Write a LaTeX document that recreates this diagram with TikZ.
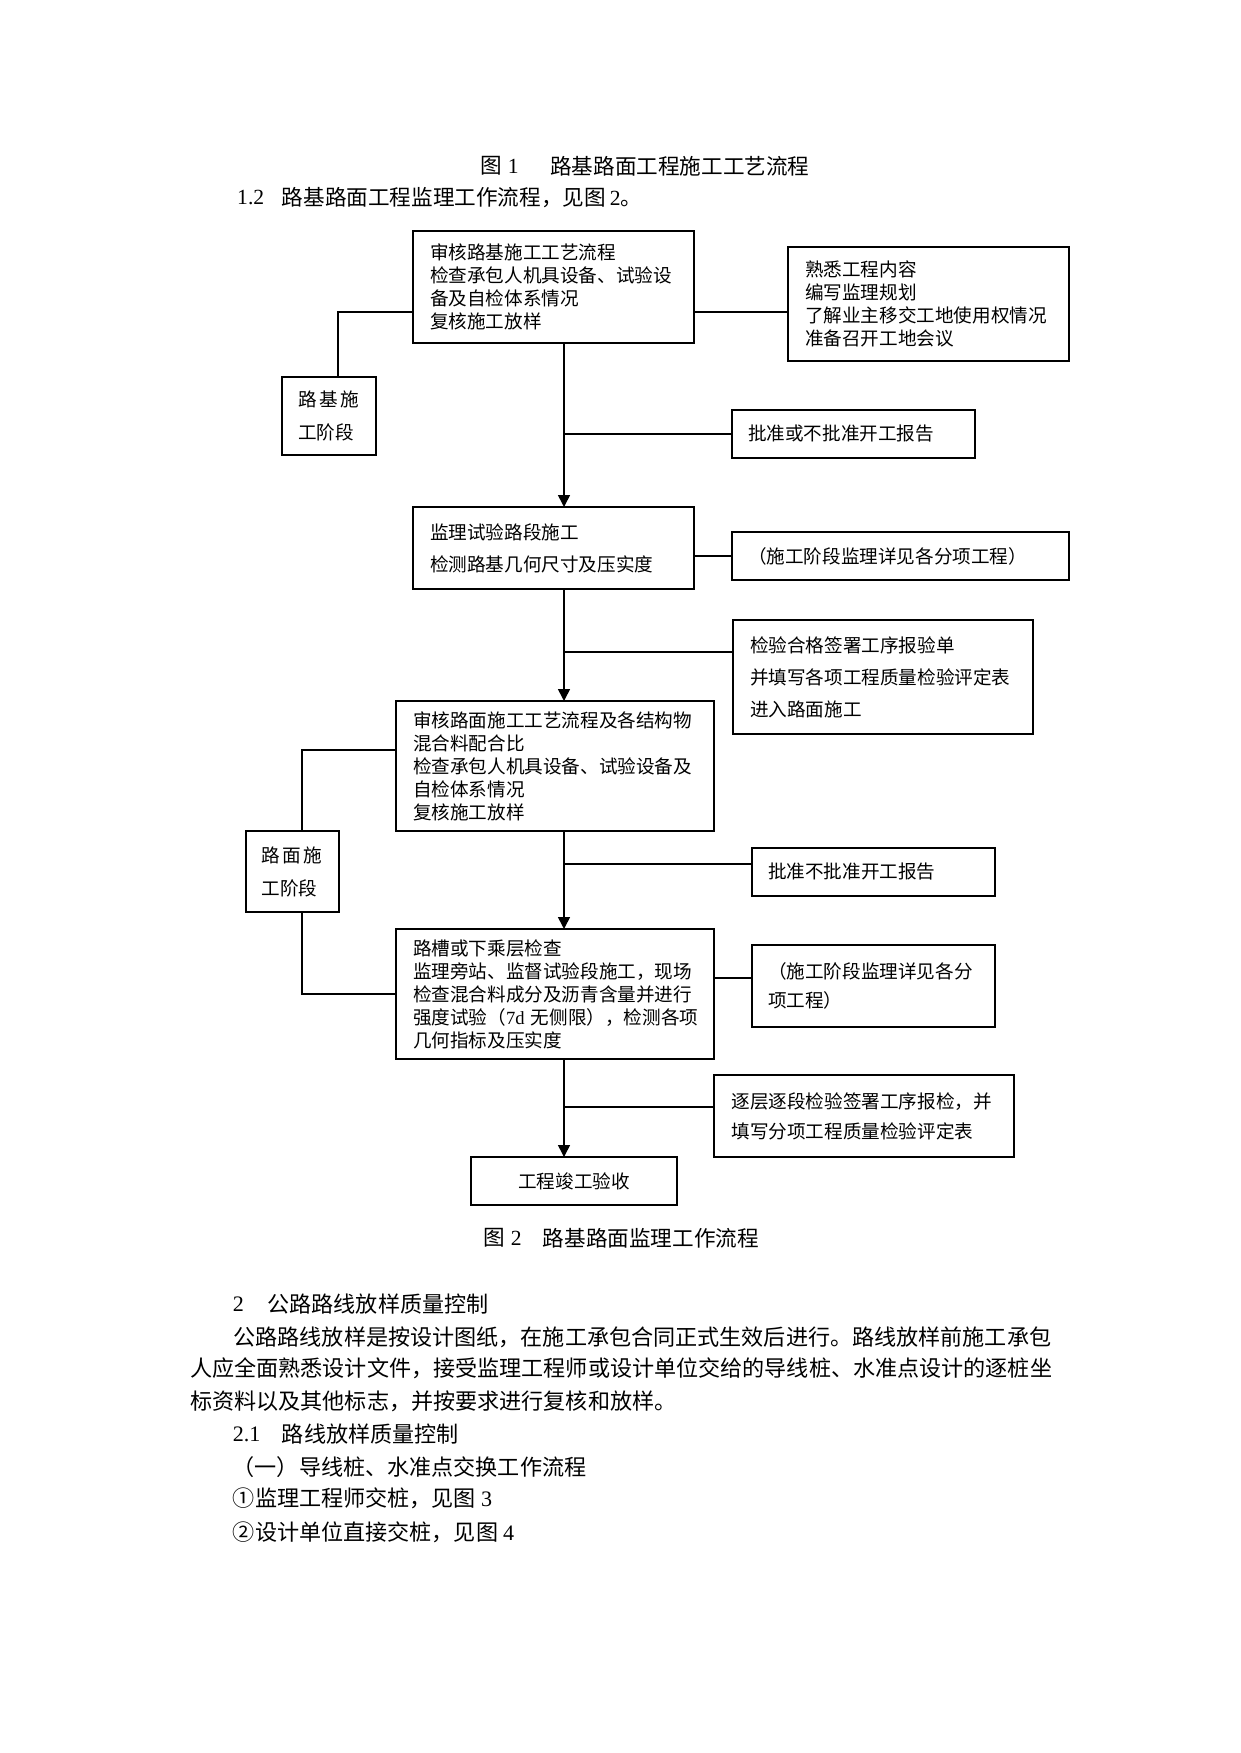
\documentclass[tikz,border=0pt]{standalone}
\usepackage{fontspec}
\newfontfamily\cjk{Noto Sans CJK SC}
\newfontfamily\lat{Liberation Serif}
\usetikzlibrary{arrows.meta}
\begin{document}
\begin{tikzpicture}[x=1pt,y=-1pt,
  box/.style={draw, line width=1.6pt, anchor=north west, outer sep=0pt, inner xsep=17pt, inner ysep=0pt, align=left, font=\cjk\fontsize{18.6pt}{23pt}\selectfont},
  txt/.style={anchor=west, inner sep=0pt, font=\cjk\fontsize{22.1pt}{26pt}\selectfont},
  captxt/.style={anchor=west, inner sep=0pt, font=\cjk\fontsize{21.6pt}{26pt}\selectfont},
  ln/.style={line width=1.6pt},
  arr/.style={ln, -{Triangle[width=12pt,length=12pt]}}]
\useasboundingbox (0,0) rectangle (1240,1753);
\fill[white] (0,0) rectangle (1240,1753);

% headings
\node[captxt] (t1a) at (480,166) {图\hspace{6pt}{\lat 1}};
\node[captxt] (t1b) at (550,166) {路基路面工程施工工艺流程};
\node[captxt] (t2a) at (237,198) {\lat 1.2};
\node[captxt] (t2b) at (281.7,198) {路基路面工程监理工作流程，见图\hspace{4pt}{\lat 2}。};

% boxes
\node[box, text width=247pt, minimum height=112pt] (b1) at (413,231)
  {审核路基施工工艺流程\\检查承包人机具设备、试验设\\备及自检体系情况\\复核施工放样};
\node[box, text width=247pt, minimum height=114pt] (bA) at (788,247)
  {熟悉工程内容\\编写监理规划\\了解业主移交工地使用权情况\\准备召开工地会议};
\node[box, inner xsep=16pt, text width=62pt, minimum height=78pt, font=\cjk\fontsize{18.6pt}{33pt}\selectfont] (bL1) at (282,377)
  {路\hspace{2.5pt}基\hspace{2.5pt}施\\工阶段};
\node[box, inner xsep=16pt, text width=211pt, minimum height=48pt] (bP1) at (732,410)
  {批准或不批准开工报告};
\node[box, text width=247pt, minimum height=82pt, font=\cjk\fontsize{18.6pt}{32pt}\selectfont] (b2) at (413,507)
  {监理试验路段施工\\检测路基几何尺寸及压实度};
\node[box, inner xsep=16pt, text width=305pt, minimum height=48pt] (bB) at (732,532)
  {（施工阶段监理详见各分项工程）};
\node[box, text width=266pt, minimum height=114pt, font=\cjk\fontsize{18.6pt}{32pt}\selectfont] (bC) at (733,620)
  {检验合格签署工序报验单\\并填写各项工程质量检验评定表\\进入路面施工};
\node[box, text width=284pt, minimum height=130pt] (b3) at (396,701)
  {审核路面施工工艺流程及各结构物\\混合料配合比\\检查承包人机具设备、试验设备及\\自检体系情况\\复核施工放样};
\node[box, inner xsep=15.5pt, text width=62pt, minimum height=81pt, font=\cjk\fontsize{18.6pt}{33pt}\selectfont] (bL2) at (246,831)
  {路\hspace{2.5pt}面\hspace{2.5pt}施\\工阶段};
\node[box, inner xsep=16pt, text width=211pt, minimum height=48pt] (bD) at (752,848)
  {批准不批准开工报告};
\node[box, text width=284pt, minimum height=130pt] (b4) at (396,929)
  {路槽或下乘层检查\\监理旁站、监督试验段施工，现场\\检查混合料成分及沥青含量并进行\\强度试验（{\lat 7d}~无侧限），检测各项\\几何指标及压实度};
\node[box, inner xsep=16pt, text width=211pt, minimum height=82pt, font=\cjk\fontsize{18.6pt}{29pt}\selectfont] (bE) at (752,945)
  {（施工阶段监理详见各分\\项工程）};
\node[box, inner xsep=17.5pt, text width=265pt, minimum height=82pt, font=\cjk\fontsize{18.6pt}{30pt}\selectfont] (bF) at (714,1075)
  {逐层逐段检验签署工序报检，并\\填写分项工程质量检验评定表};
\node[box, inner xsep=0pt, align=center, text width=206pt, minimum height=48pt] (b5) at (471,1157)
  {工程竣工验收};

% helper coordinates
\coordinate (tx) at (564,0);
\coordinate (lx1) at (338,0);
\coordinate (lx2) at (302,0);
\coordinate (aA) at ([yshift=-65pt]bA.north west);
\coordinate (aC) at ([yshift=-32pt]bC.north west);
\coordinate (aD) at ([yshift=-16pt]bD.north west);
\coordinate (aE) at ([yshift=-33pt]bE.north west);
\coordinate (aF) at ([yshift=-32pt]bF.north west);
\coordinate (a3) at ([yshift=-49pt]b3.north west);
\coordinate (a4) at ([yshift=-65pt]b4.north west);

% trunk
\draw[arr] (tx |- b1.south) -- (tx |- b2.north);
\draw[arr] (tx |- b2.south) -- (tx |- b3.north);
\draw[arr] (tx |- b3.south) -- (tx |- b4.north);
\draw[arr] (tx |- b4.south) -- (tx |- b5.north);

% branches
\draw[ln] (aA -| b1.east) -- (aA);
\draw[ln] (aA -| b1.west) -| (lx1 |- bL1.north);
\draw[ln] (tx |- bP1.west) -- (bP1.west);
\draw[ln] (bB.west -| b2.east) -- (bB.west);
\draw[ln] (aC -| tx) -- (aC);
\draw[ln] (a3) -| (lx2 |- bL2.north);
\draw[ln] (lx2 |- bL2.south) |- (a4);
\draw[ln] (tx |- aD) -- (aD);
\draw[ln] (aE -| b4.east) -- (aE);
\draw[ln] (aF -| tx) -- (aF);

% captions and body text
\node[captxt] (c2a) at (483,1238) {图\hspace{6pt}{\lat 2}};
\node[captxt] (c2b) at (542.7,1238) {路基路面监理工作流程};
\node[txt] (s2a) at (232.7,1304) {\lat 2};
\node[txt] (s2b) at (267.3,1304) {公路路线放样质量控制};
\node[txt] (p1) at (233.3,1337) {公路路线放样是按设计图纸，在施工承包合同正式生效后进行。路线放样前施工承包};
\node[txt] (p2) at (190,1368) {人应全面熟悉设计文件，接受监理工程师或设计单位交给的导线桩、水准点设计的逐桩坐};
\node[txt] (p3) at (190,1401) {标资料以及其他标志，并按要求进行复核和放样。};
\node[txt] (s21a) at (232.7,1434) {\lat 2.1};
\node[txt] (s21b) at (281.7,1434) {路线放样质量控制};
\node[txt] (q1) at (232.5,1467) {（一）导线桩、水准点交换工作流程};
\node[txt] (q2) at (232.7,1498) {①监理工程师交桩，见图\hspace{5pt}{\lat 3}};
\node[txt] (q3) at (232.7,1532) {②设计单位直接交桩，见图\hspace{5pt}{\lat 4}};
\end{tikzpicture}
\end{document}
